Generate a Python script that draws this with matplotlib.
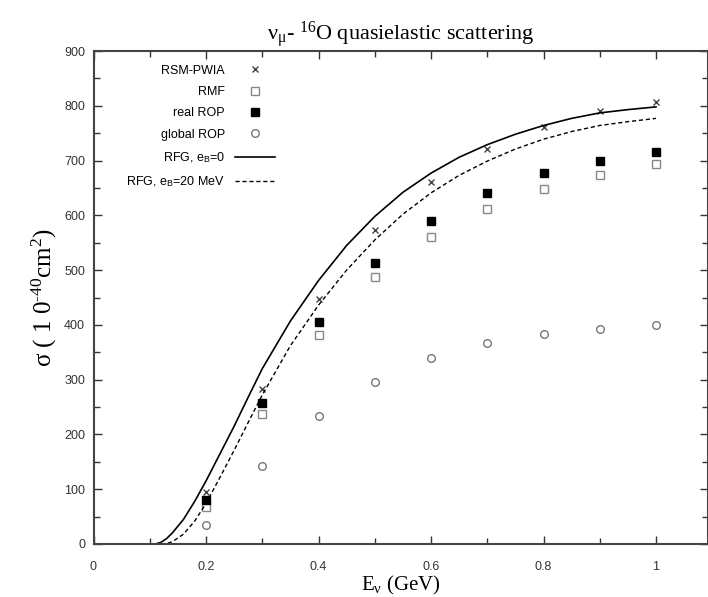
import matplotlib
matplotlib.use("Agg")
import matplotlib.pyplot as plt
from matplotlib.ticker import MultipleLocator

# Data
E_pts = [0.2, 0.3, 0.4, 0.5, 0.6, 0.7, 0.8, 0.9, 1.0]
rsm_pwia = [95, 283, 448, 573, 660, 722, 762, 790, 806]
rmf = [67, 238, 381, 487, 561, 612, 648, 674, 693]
real_rop = [81, 258, 405, 513, 590, 641, 677, 700, 716]
global_rop = [35, 143, 233, 296, 340, 367, 384, 393, 400]

E_rfg0 = [0.10, 0.11, 0.12, 0.13, 0.14, 0.16, 0.18, 0.20, 0.225, 0.25, 0.275, 0.30, 0.35,
          0.40, 0.45, 0.50, 0.55, 0.60, 0.65, 0.70, 0.75, 0.80, 0.85, 0.90, 0.95, 1.0]
rfg0 = [0, 0, 3, 10, 20, 45, 78, 115, 165, 215, 268, 320, 407,
        481, 545, 598, 642, 677, 706, 729, 748, 764, 777, 787, 793, 798]
E_rfg20 = [0.12, 0.13, 0.14, 0.16, 0.18, 0.20, 0.225, 0.25, 0.275, 0.30, 0.35,
           0.40, 0.45, 0.50, 0.55, 0.60, 0.65, 0.70, 0.75, 0.80, 0.85, 0.90, 0.95, 1.0]
rfg20 = [0, 1, 4, 18, 42, 74, 122, 171, 222, 272, 362,
         436, 500, 555, 602, 641, 673, 699, 721, 739, 753, 764, 771, 777]

x_ticks = [0, 0.2, 0.4, 0.6, 0.8, 1.0]
x_ticklabels = ["0", "0.2", "0.4", "0.6", "0.8", "1"]
y_ticks = [0, 100, 200, 300, 400, 500, 600, 700, 800, 900]

sans = ["Liberation Sans", "DejaVu Sans"]
serif = ["Liberation Serif", "DejaVu Serif"]
plt.rcParams["mathtext.fontset"] = "custom"
plt.rcParams["mathtext.rm"] = "Liberation Serif"
plt.rcParams["mathtext.it"] = "Liberation Serif:italic"

fig = plt.figure(figsize=(7.08, 5.97), dpi=100)
ax = fig.add_axes([93.5 / 708, 1 - 544 / 597, (708 - 93.5) / 708, (544 - 51) / 597])

ax.plot(E_pts, rsm_pwia, linestyle="none", marker="x", ms=5, mew=1.0, color="#444444",
        label="RSM-PWIA")
ax.plot(E_pts, rmf, linestyle="none", marker="s", ms=6, mfc="white", mec="#888888", mew=1.0,
        label="RMF")
ax.plot(E_pts, real_rop, linestyle="none", marker="s", ms=6, color="black", label="real ROP")
ax.plot(E_pts, global_rop, linestyle="none", marker="o", ms=5.5, mfc="white", mec="#777777",
        mew=1.0, label="global ROP")
ax.plot(E_rfg0, rfg0, color="black", lw=1.2, label=r"RFG, e$_\mathregular{B}$=0")
ax.plot(E_rfg20, rfg20, color="black", lw=1.0, linestyle=(0, (3, 2)),
        label=r"RFG, e$_\mathregular{B}$=20 MeV")

ax.set_xlim(0, (708 - 93.5) / 562.5)
ax.set_ylim(0, 900)
ax.set_xticks(x_ticks)
ax.set_xticklabels(x_ticklabels)
ax.set_yticks(y_ticks)
ax.xaxis.set_minor_locator(MultipleLocator(0.1))
ax.yaxis.set_minor_locator(MultipleLocator(50))
ax.tick_params(which="both", direction="in", top=True, right=True, labelsize=9,
               colors="#333333", pad=6)
ax.tick_params(axis="x", which="both", pad=12)
ax.tick_params(which="major", length=6, width=1)
ax.tick_params(which="minor", length=4, width=1)
for lab in ax.get_xticklabels() + ax.get_yticklabels():
    lab.set_family(sans)
for s in ax.spines.values():
    s.set_linewidth(1.5)
    s.set_color("#444444")

ax.set_title(r"$\mathregular{\nu_\mu}$- $\mathregular{^{16}}$O quasielastic scattering",
             fontsize=16, family=serif, pad=8)
ax.set_xlabel(r"E$_\mathregular{\nu}$ (GeV)", fontsize=15, family=serif, labelpad=1)
ax.set_ylabel(r"$\mathregular{\sigma}$ ( 1 0$^\mathregular{\text{-}40}$cm$^\mathregular{2}$)",
              fontsize=18, family=serif, labelpad=4)

leg = ax.legend(loc="upper left", bbox_to_anchor=(0.035, 0.995), frameon=False,
                markerfirst=False, prop={"family": sans, "size": 9}, handlelength=3.2,
                handletextpad=0.8, labelspacing=0.75, numpoints=1)
for col in leg._legend_handle_box.get_children():
    col.align = "right"

fig.savefig("out.png", dpi=100)
